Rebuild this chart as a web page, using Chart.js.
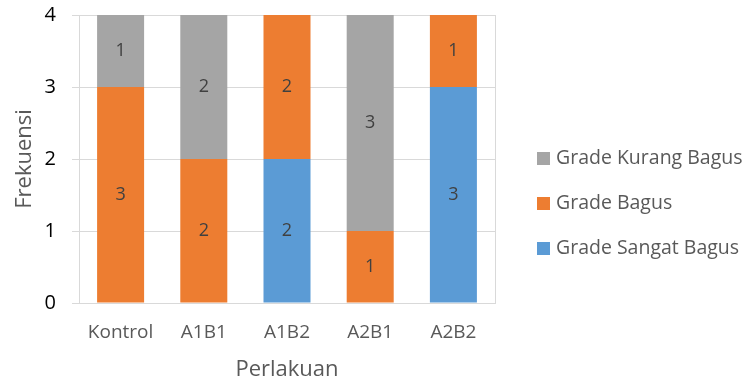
<!DOCTYPE html>
<html>
<head>
<meta charset="utf-8">
<script src="https://cdn.jsdelivr.net/npm/chart.js@4/dist/chart.umd.min.js"></script>
<style>
  html, body { margin: 0; padding: 0; background: #ffffff; }
  #wrap { width: 753px; height: 387px; }
</style>
</head>
<body>
<div id="wrap"><canvas id="c" width="753" height="387"></canvas></div>
<script>
const categories = ['Kontrol', 'A1B1', 'A1B2', 'A2B1', 'A2B2'];
const sangatBagus = [0, 0, 2, 0, 3];
const bagus = [3, 2, 2, 1, 1];
const kurangBagus = [1, 2, 0, 3, 0];
const yTicks = [0, 1, 2, 3, 4];

const FONT = "'Open Sans', 'Noto Sans', sans-serif";

// Value labels centred in each stacked segment
const segmentLabels = {
  id: 'segmentLabels',
  afterDatasetsDraw(chart) {
    const ctx = chart.ctx;
    ctx.save();
    ctx.font = '18px ' + FONT;
    ctx.fillStyle = '#404040';
    ctx.textAlign = 'center';
    ctx.textBaseline = 'middle';
    chart.data.datasets.forEach((ds, i) => {
      const meta = chart.getDatasetMeta(i);
      meta.data.forEach((bar, j) => {
        const v = ds.data[j];
        if (!v) return;
        ctx.fillText(String(v), bar.x, (bar.y + bar.base) / 2);
      });
    });
    ctx.restore();
  }
};

// Plot-area right border and a legend listed top-down in reverse series order
const frameAndLegend = {
  id: 'frameAndLegend',
  beforeDatasetsDraw(chart) {
    const { ctx, chartArea } = chart;
    ctx.save();
    ctx.strokeStyle = '#D9D9D9';
    ctx.lineWidth = 1;
    ctx.beginPath();
    ctx.moveTo(Math.round(chartArea.right) + 0.5, chartArea.top);
    ctx.lineTo(Math.round(chartArea.right) + 0.5, chartArea.bottom);
    ctx.stroke();
    ctx.restore();
  },
  afterDraw(chart) {
    const ctx = chart.ctx;
    const items = chart.data.datasets.slice().reverse();
    ctx.save();
    ctx.font = '19.5px ' + FONT;
    ctx.textBaseline = 'middle';
    ctx.textAlign = 'left';
    items.forEach((ds, k) => {
      const y = 158 + k * 45;
      ctx.fillStyle = ds.backgroundColor;
      ctx.fillRect(537, y - 6, 13, 13);
      ctx.fillStyle = '#595959';
      ctx.fillText(ds.label, 556, y);
    });
    ctx.restore();
  }
};

new Chart(document.getElementById('c'), {
  type: 'bar',
  data: {
    labels: categories,
    datasets: [
      { label: 'Grade Sangat Bagus', data: sangatBagus, backgroundColor: '#5B9BD5' },
      { label: 'Grade Bagus', data: bagus, backgroundColor: '#ED7D31' },
      { label: 'Grade Kurang Bagus', data: kurangBagus, backgroundColor: '#A5A5A5' }
    ]
  },
  options: {
    responsive: false,
    animation: false,
    devicePixelRatio: 1,
    layout: { padding: { left: 0, right: 258, top: 15, bottom: 0 } },
    datasets: { bar: { categoryPercentage: 0.565, barPercentage: 1.0 } },
    plugins: {
      legend: { display: false },
      tooltip: { enabled: false }
    },
    scales: {
      x: {
        stacked: true,
        grid: { display: false, drawTicks: false },
        border: { display: true, color: '#D9D9D9' },
        ticks: { color: '#595959', font: { family: FONT, size: 19 }, padding: 18 },
        title: { display: true, text: 'Perlakuan', color: '#595959', font: { family: FONT, size: 22 }, padding: { top: 10 } },
        afterFit(scale) {
          scale.height = 84;
          scale.paddingLeft = 0;
          scale.paddingRight = 0;
        }
      },
      y: {
        stacked: true,
        min: 0,
        max: 4,
        afterBuildTicks(scale) { scale.ticks = yTicks.map(v => ({ value: v })); },
        grid: { color: '#D9D9D9', tickLength: 7, drawTicks: true },
        border: { display: true, color: '#D9D9D9' },
        ticks: { color: '#000000', font: { family: FONT, size: 20 }, padding: 16 },
        title: { display: true, text: 'Frekuensi', color: '#595959', font: { family: FONT, size: 22 }, padding: { top: 12, bottom: 0 } },
        afterFit(scale) {
          scale.width = 79;
          scale.paddingTop = 0;
          scale.paddingBottom = 0;
        }
      }
    }
  },
  plugins: [segmentLabels, frameAndLegend]
});
</script>
</body>
</html>
